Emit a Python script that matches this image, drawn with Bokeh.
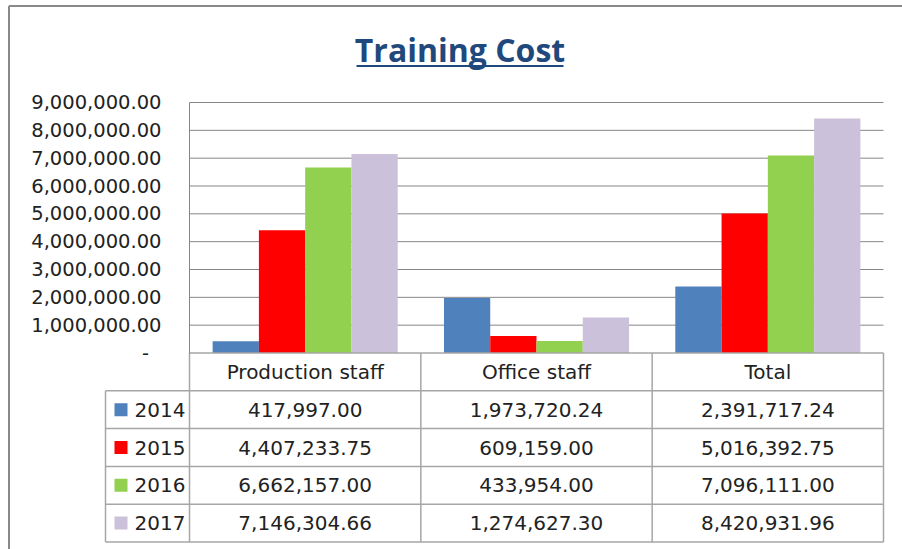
from bokeh.plotting import figure
from bokeh.models import Range1d, LinearAxis, FixedTicker
from bokeh.core.properties import value
from bokeh.embed import file_html
from bokeh.resources import INLINE

# ---------------- data ----------------
categories = ["Production staff", "Office staff", "Total"]
years = ["2014", "2015", "2016", "2017"]
v2014 = [417997.00, 1973720.24, 2391717.24]
v2015 = [4407233.75, 609159.00, 5016392.75]
v2016 = [6662157.00, 433954.00, 7096111.00]
v2017 = [7146304.66, 1274627.30, 8420931.96]
series = [v2014, v2015, v2016, v2017]
colors = ["#4F81BD", "#FF0000", "#92D050", "#CCC1DA"]
ticks = [0, 1000000, 2000000, 3000000, 4000000, 5000000, 6000000, 7000000, 8000000, 9000000]
tick_labels = ["-\u00a0\u00a0", "1,000,000.00", "2,000,000.00", "3,000,000.00", "4,000,000.00",
               "5,000,000.00", "6,000,000.00", "7,000,000.00", "8,000,000.00", "9,000,000.00"]
title_text = "Training Cost"

# ---------------- layout ----------------
W, H = 902, 549
PAGE_X0, PAGE_Y0 = 0, 0            # canvas position on page
ORG_X, ORG_Y = 189, 352.5          # page position of (0, 0) of the value axes
CAT_PX = 694 / 3                   # px per category
VAL_PX = 250.5 / 9e6               # px per unit value
ROW_PX = 37.8                      # table row height

def dx(px):
    return (px - ORG_X) / CAT_PX

def dy(py):
    return (ORG_Y - py) / VAL_PX

p = figure(width=W, height=H, output_backend="svg", toolbar_location=None,
           x_axis_location=None, y_axis_location=None, title=None,
           x_range=Range1d(dx(PAGE_X0), dx(PAGE_X0 + W)),
           y_range=Range1d(dy(PAGE_Y0 + H), dy(PAGE_Y0)),
           min_border=0, min_border_left=0, min_border_right=0,
           min_border_top=0, min_border_bottom=0)
p.outline_line_color = None
p.background_fill_color = "white"
p.border_fill_color = "white"
for g in p.grid:
    g.visible = False
p.extra_y_ranges = {"tbl": Range1d((PAGE_Y0 + H - ORG_Y) / ROW_PX, (PAGE_Y0 - ORG_Y) / ROW_PX)}

ncat = len(categories)
GRID = "#868686"
TBL = "#A6A6A6"
TXT = "#222222"
FONT = value("DejaVu Sans")

# gridlines
p.segment(x0=0, x1=ncat, y0=ticks[1:], y1=ticks[1:], line_color=GRID, line_width=1)

# y axis
yax = LinearAxis(fixed_location=0, bounds=(0, ticks[-1]), ticker=FixedTicker(ticks=ticks),
                 major_label_overrides={t: l for t, l in zip(ticks, tick_labels)},
                 major_tick_out=0, major_tick_in=0, minor_tick_out=0, minor_tick_in=0,
                 major_label_standoff=28, axis_line_color=GRID, axis_line_width=1,
                 major_label_text_font="DejaVu Sans", major_label_text_font_size="19.5px",
                 major_label_text_color=TXT)
p.add_layout(yax, "left")

# bars
bw = 0.2
for k, (vals, col) in enumerate(zip(series, colors)):
    off = (k - 1.5) * bw
    p.vbar(x=[i + 0.5 + off for i in range(ncat)], top=vals, bottom=0, width=bw,
           fill_color=col, line_color=None)

# table lines
LEG_X = dx(105)
nrows = len(years) + 1
p.segment(x0=0, x1=ncat, y0=0, y1=0, line_color=TBL, line_width=1.5, y_range_name="tbl")
p.segment(x0=LEG_X, x1=ncat, y0=list(range(1, nrows + 1)), y1=list(range(1, nrows + 1)),
          line_color=TBL, line_width=1.5, y_range_name="tbl")
p.segment(x0=LEG_X, x1=LEG_X, y0=1, y1=nrows, line_color=TBL, line_width=1.5, y_range_name="tbl")
p.segment(x0=list(range(ncat + 1)), x1=list(range(ncat + 1)), y0=0, y1=nrows,
          line_color=TBL, line_width=1.5, y_range_name="tbl")

# header texts
p.text(x=[i + 0.5 for i in range(ncat)], y=[0.5] * ncat, text=categories,
       text_align="center", text_baseline="middle", text_font=FONT,
       text_font_size="20px", text_color=TXT, y_range_name="tbl")

# values
for r, vals in enumerate(series):
    p.text(x=[i + 0.5 for i in range(ncat)], y=[r + 1.5] * ncat,
           text=[f"{v:,.2f}" for v in vals], text_align="center", text_baseline="middle",
           text_font=FONT, text_font_size="20px", text_color=TXT, y_range_name="tbl")

# legend keys
rows_c = [r + 1.5 for r in range(len(years))]
p.scatter(x=[dx(120.5)] * len(years), y=rows_c, marker="square", size=13,
          fill_color=colors, line_color=None, y_range_name="tbl")
p.text(x=[dx(134)] * len(years), y=rows_c, text=years, text_align="left",
       text_baseline="middle", text_font=FONT, text_font_size="20px", text_color=TXT,
       y_range_name="tbl")

# title with underline
TCOL = "#1F497D"
p.text(x=[dx(459.5)], y=[dy(48.5)], text=[title_text], text_align="center",
       text_baseline="middle", text_font=value("Open Sans"), text_font_style="bold",
       text_font_size="32px", text_color=TCOL)
p.segment(x0=[dx(356)], x1=[dx(563)], y0=[dy(65.5)], y1=[dy(65.5)], line_color=TCOL, line_width=2)

# outer chart border (left and top)
p.segment(x0=[dx(8.5), dx(8.5)], x1=[dx(8.5), dx(PAGE_X0 + W)],
          y0=[dy(5.5), dy(5.5)], y1=[dy(PAGE_Y0 + H), dy(5.5)],
          line_color="#898989", line_width=2)

open("out.html", "w").write(file_html(p, INLINE))
